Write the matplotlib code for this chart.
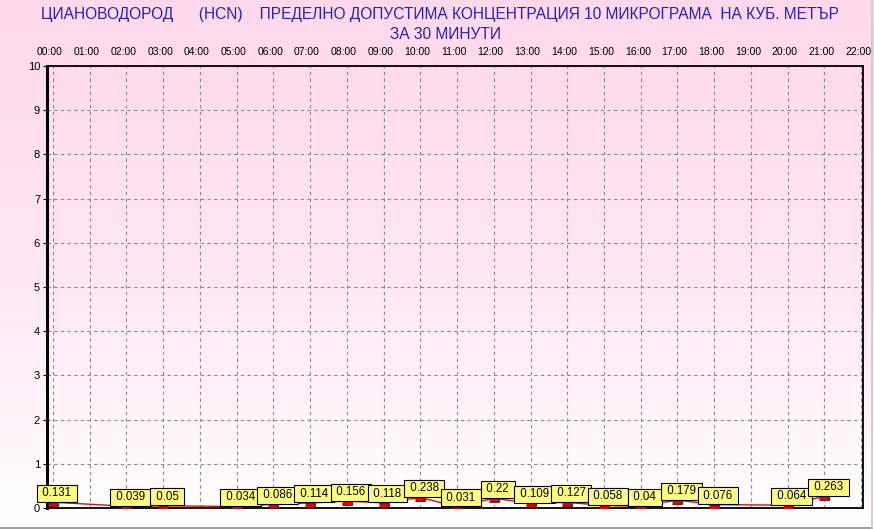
import numpy as np
import matplotlib.pyplot as plt
from matplotlib.colors import LinearSegmentedColormap
from matplotlib.lines import Line2D
from matplotlib.transforms import ScaledTranslation

plt.rcParams.update({
    'font.family': ['Liberation Sans', 'DejaVu Sans'],
    'font.size': 8,
})

title_1 = 'ЦИАНОВОДОРОД      (HCN)    ПРЕДЕЛНО ДОПУСТИМА КОНЦЕНТРАЦИЯ 10 МИКРОГРАМА  НА КУБ. МЕТЪР'
title_2 = 'ЗА 30 МИНУТИ'

hours = list(range(22))
# nan = no measurement for that hour
hcn = [0.131, np.nan, 0.039, 0.05, np.nan, 0.034, 0.086, 0.114, 0.156, 0.118,
       0.238, 0.031, 0.22, 0.109, 0.127, 0.058, 0.04, 0.179, 0.076, np.nan,
       0.064, 0.263]
tick_hours = list(range(23))
tick_labels = [f'{h:02d}:00' for h in tick_hours]
y_ticks = list(range(11))

fig = plt.figure(figsize=(8.74, 5.29), dpi=100)

# pink-to-white background over the whole figure
bg = fig.add_axes([0, 0, 1, 1], zorder=-10)
grad = np.linspace(0, 1, 256).reshape(-1, 1)
cmap = LinearSegmentedColormap.from_list('pinkfade', ['#ffd8ec', '#ffe6f2', '#ffffff'])
bg.imshow(grad, aspect='auto', cmap=cmap, extent=[0, 1, 0, 1])
bg.axis('off')

ax = fig.add_axes([47 / 874, 1 - 508 / 529, 816 / 874, 442 / 529])
ax.patch.set_alpha(0)

x = np.array(hours, dtype=float)
y = np.array(hcn, dtype=float)
ok = ~np.isnan(y)
ax.plot(x[ok], y[ok], color='#d01010', linewidth=1, zorder=3)
rect = [(-5, -4), (5, -4), (5, 0), (-5, 0)]
ax.plot(x[ok], y[ok], linestyle='none', marker=rect, markersize=7.2,
        markerfacecolor='#e00000', markeredgecolor='#700000', markeredgewidth=0.6, zorder=4)

for xi, yi in zip(x[ok], y[ok]):
    ax.annotate(f' {yi:g} ', (xi, yi), xytext=(4, 3), textcoords='offset pixels',
                ha='center', va='bottom', fontsize=8.3, zorder=5, annotation_clip=False,
                bbox=dict(boxstyle='square,pad=0.22', facecolor='#ffff80',
                          edgecolor='black', linewidth=0.8))

ax.set_xlim(-0.16, 22.05)
ax.set_ylim(0, 10)
ax.set_xticks(tick_hours)
ax.set_xticklabels(tick_labels)
ax.set_yticks(y_ticks)
ax.xaxis.tick_top()
ax.tick_params(axis='x', length=0, pad=6.5, labelsize=7.5)
ax.tick_params(axis='y', length=3, width=0.8, pad=2, labelsize=8)
for lab in ax.get_xticklabels():
    lab.set_transform(lab.get_transform() + ScaledTranslation(-3 / 100, 0, fig.dpi_scale_trans))

ax.grid(True, color='#8a8a8a', linestyle=(0, (3, 3)), linewidth=0.8)
ax.set_axisbelow(True)
for side in ['top', 'bottom', 'right']:
    ax.spines[side].set_linestyle((0, (2, 1)))
    ax.spines[side].set_linewidth(1.3)
ax.spines['left'].set_linewidth(2.2)

fig.text(440 / 874, 1 - 15 / 529, title_1, ha='center', va='center',
         fontsize=11.2, color='#2222c2')
fig.text(446 / 874, 1 - 34.5 / 529, title_2, ha='center', va='center',
         fontsize=11.2, color='#2222c2')

# grey frame at the right and bottom edge
fig.add_artist(Line2D([0, 872 / 874], [1.5 / 529, 1.5 / 529], color='#a0a0a0', linewidth=1.5))
fig.add_artist(Line2D([872 / 874, 872 / 874], [1.5 / 529, 1], color='#c8c8c8', linewidth=1.2))

fig.savefig('out.png', dpi=100)
